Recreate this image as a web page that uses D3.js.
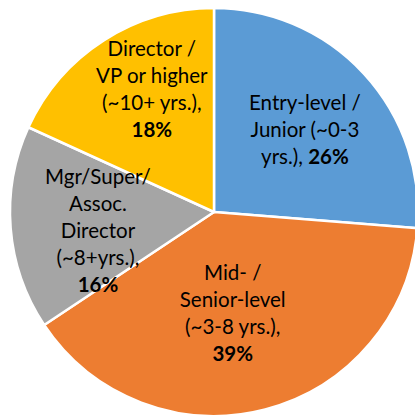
<!DOCTYPE html>
<html>
<head>
<meta charset="utf-8">
<script src="https://cdn.jsdelivr.net/npm/d3@7"></script>
<style>
  body { margin: 0; background: #fff; }
  svg { display: block; }
</style>
</head>
<body>
<div id="viz"></div>
<script>
// data
let categories = ['Entry-level / Junior (~0-3 yrs.)', 'Mid- / Senior-level (~3-8 yrs.)',
                  'Mgr/Super/ Assoc. Director (~8+yrs.)', 'Director / VP or higher (~10+ yrs.)'];
let values = [26, 39, 16, 18];
let colors = ['#5B9BD5', '#ED7D31', '#A5A5A5', '#FFC000'];
// how each label wraps; {p} is where the bold percentage goes
let labelLines = [
    ['Entry-level /', 'Junior (~0-3', 'yrs.), {p}'],
    ['Mid- /', 'Senior-level', '(~3-8 yrs.),', '{p}'],
    ['Mgr/Super/', 'Assoc.', 'Director', '(~8+yrs.),', '{p}'],
    ['Director /', 'VP or higher', '(~10+ yrs.),', '{p}']
];
// small nudges from the label centroid, like Excel's best-fit placement
let labelNudge = [[1, 1], [-12, -17], [6, 9], [4, -20]];

let width = 415, height = 417;
let cx = 214, cy = 212, radius = 204;
let lineHeight = 27;

let svg = d3.select('#viz')
    .append('svg')
    .attr('width', width)
    .attr('height', height);

let pie = d3.pie()
    .sort(null)
    .value((d) => d);

let arcs = pie(values);

let arc = d3.arc()
    .innerRadius(0)
    .outerRadius(radius);

let labelArc = d3.arc()
    .innerRadius(radius * 0.6)
    .outerRadius(radius * 0.6);

let g = svg.append('g')
    .attr('transform', 'translate(' + cx + ',' + cy + ')');

g.selectAll('path')
    .data(arcs)
    .enter()
    .append('path')
    .attr('d', arc)
    .attr('fill', (d, i) => colors[i])
    .attr('stroke', '#fff')
    .attr('stroke-width', 2.5)
    .attr('stroke-linejoin', 'round');

let labels = g.selectAll('text')
    .data(arcs)
    .enter()
    .append('text')
    .attr('text-anchor', 'middle')
    .style('font-family', 'Lato, "Open Sans", sans-serif')
    .style('font-size', '20.5px')
    .style('fill', '#000')
    .attr('transform', (d, i) => {
        let c = labelArc.centroid(d);
        return 'translate(' + (c[0] + labelNudge[i][0]) + ',' + (c[1] + labelNudge[i][1]) + ')';
    });

labels.each(function (d, i) {
    let lines = labelLines[i];
    let top = -(lines.length - 1) * lineHeight / 2;
    let text = d3.select(this);
    lines.forEach((line, j) => {
        let parts = line.split('{p}');
        let t = text.append('tspan')
            .attr('x', 0)
            .attr('y', top + j * lineHeight + 7);
        if (parts[0]) t.append('tspan').text(parts[0]);
        if (parts.length > 1) {
            t.append('tspan')
                .style('font-weight', 'bold')
                .text(values[i] + '%');
        }
    });
});
</script>
</body>
</html>
